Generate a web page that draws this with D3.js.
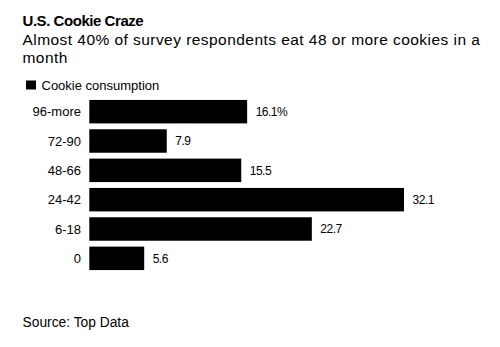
<!DOCTYPE html>
<html>
<head>
<meta charset="utf-8">
<script src="https://cdn.jsdelivr.net/npm/d3@7"></script>
<style>
  body { margin: 0; background: #fff; }
  text { font-family: "Liberation Sans", Arial, Helvetica, sans-serif; fill: #000; }
</style>
</head>
<body>
<script>
const categories = ["96-more", "72-90", "48-66", "24-42", "6-18", "0"]
const values = [16.1, 7.9, 15.5, 32.1, 22.7, 5.6]
const valueLabels = ["16.1%", "7.9", "15.5", "32.1", "22.7", "5.6"]

const W = 500, H = 347
const svg = d3.select("body").append("svg").attr("width", W).attr("height", H)

svg.append("text").attr("x", 22.5).attr("y", 25.8)
    .style("font-size", "15px").style("font-weight", "bold")
    .style("letter-spacing", "-0.45px")
    .text("U.S. Cookie Craze")

const sub = svg.append("text").style("font-size", "15.5px").style("letter-spacing", "0.45px")
sub.append("tspan").attr("x", 22.5).attr("y", 45)
    .text("Almost 40% of survey respondents eat 48 or more cookies in a")
sub.append("tspan").attr("x", 22.5).attr("y", 63).text("month")

// legend
svg.append("rect").attr("x", 26).attr("y", 80.5).attr("width", 10).attr("height", 9).attr("fill", "#000")
svg.append("text").attr("x", 41.5).attr("y", 89.5).style("font-size", "13px").text("Cookie consumption")

const x = d3.scaleLinear().domain([0, 32.1]).range([89.3, 404])
const y = d3.scaleBand().domain(categories).range([97, 273]).paddingInner(0.2).paddingOuter(0.1)

const rows = svg.append("g").selectAll(".row")
    .data(categories)
    .join("g")
    .classed("row", true)

rows.append("rect")
    .attr("x", x(0))
    .attr("y", d => y(d))
    .attr("width", (d, i) => x(values[i]) - x(0))
    .attr("height", y.bandwidth())
    .attr("fill", "#000")

rows.append("text")
    .attr("x", 81)
    .attr("y", d => y(d) + y.bandwidth() / 2)
    .attr("dy", "0.35em")
    .attr("text-anchor", "end")
    .style("font-size", "13px")
    .text(d => d)

rows.append("text")
    .attr("x", (d, i) => x(values[i]) + 8.5)
    .attr("y", d => y(d) + y.bandwidth() / 2)
    .attr("dy", "0.35em")
    .style("font-size", "12px")
    .style("letter-spacing", "-0.5px")
    .text((d, i) => valueLabels[i])

svg.append("text").attr("x", 22.5).attr("y", 326.5).style("font-size", "13.8px").text("Source: Top Data")
</script>
</body>
</html>
